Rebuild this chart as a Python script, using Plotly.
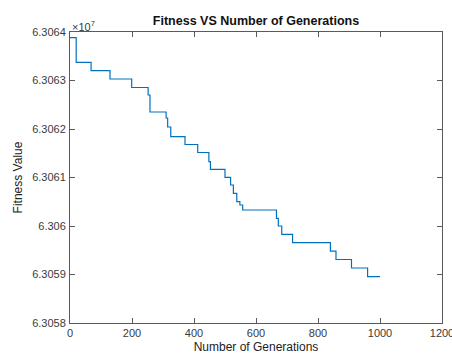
import plotly.graph_objects as go

# Step changes of the best fitness (generation at which the value changes, new value)
generations = [0, 20, 68, 129, 199, 252, 258, 310, 315, 325, 371, 412, 448, 453,
               500, 518, 527, 538, 548, 557, 666, 672, 683, 718, 840, 858, 908, 960, 1000]
fitness = [63063882, 63063375, 63063202, 63063031, 63062856, 63062701, 63062350,
           63062227, 63062041, 63061841, 63061680, 63061515, 63061326, 63061169,
           63061004, 63060845, 63060674, 63060501, 63060433, 63060330, 63060159,
           63060000, 63059829, 63059656, 63059480, 63059309, 63059134, 63058955, 63058955]

x_ticks = [0, 200, 400, 600, 800, 1000, 1200]
y_tick_vals = [63058000, 63059000, 63060000, 63061000, 63062000, 63063000, 63064000]
y_tick_text = ["6.3058", "6.3059", "6.306", "6.3061", "6.3062", "6.3063", "6.3064"]

FONT = "Liberation Sans, Arial, Helvetica, sans-serif"
AX = "#5a5a5a"
TXT = "#3a3a3a"

fig = go.Figure(go.Scatter(
    x=generations, y=fitness, mode="lines", line_shape="hv",
    line=dict(color="#0072BD", width=1.2), showlegend=False))

fig.update_layout(
    width=452, height=354,
    margin=dict(l=70, r=10, t=32, b=31, autoexpand=False),
    paper_bgcolor="white", plot_bgcolor="white",
    font=dict(family=FONT, size=11, color=TXT),
    title=dict(text="<b>Fitness VS Number of Generations</b>", x=0.5, xref="paper",
               xanchor="center", y=1, yref="paper", yanchor="bottom",
               pad=dict(b=7), font=dict(size=12.5, color="#111")),
    xaxis=dict(range=[0, 1200], tickvals=x_ticks, ticks="inside", ticklen=5,
               tickcolor=AX, showline=True, linecolor=AX, linewidth=1, mirror="ticks",
               showgrid=False, zeroline=False, ticklabelstandoff=0,
               ticklabeloverflow="allow", automargin=False,
               title=dict(text="Number of Generations", standoff=6, font=dict(size=12, color="#222"))),
    yaxis=dict(range=[63058000, 63064000], tickvals=y_tick_vals, ticktext=y_tick_text,
               ticks="inside", ticklen=5, tickcolor=AX, showline=True, linecolor=AX,
               linewidth=1, mirror="ticks", showgrid=False, zeroline=False,
               ticklabelstandoff=1, automargin=False,
               title=dict(text="Fitness Value", standoff=6, font=dict(size=12, color="#222"))),
    annotations=[dict(text="\u00d710<sup>7</sup>", x=0, y=1, xref="paper", yref="paper",
                      xanchor="left", yanchor="bottom", showarrow=False,
                      font=dict(size=11, color=TXT), xshift=0, yshift=-3)],
)

fig.write_html("out.html", config={"displayModeBar": False},
               post_script="document.body.style.margin='0';")
